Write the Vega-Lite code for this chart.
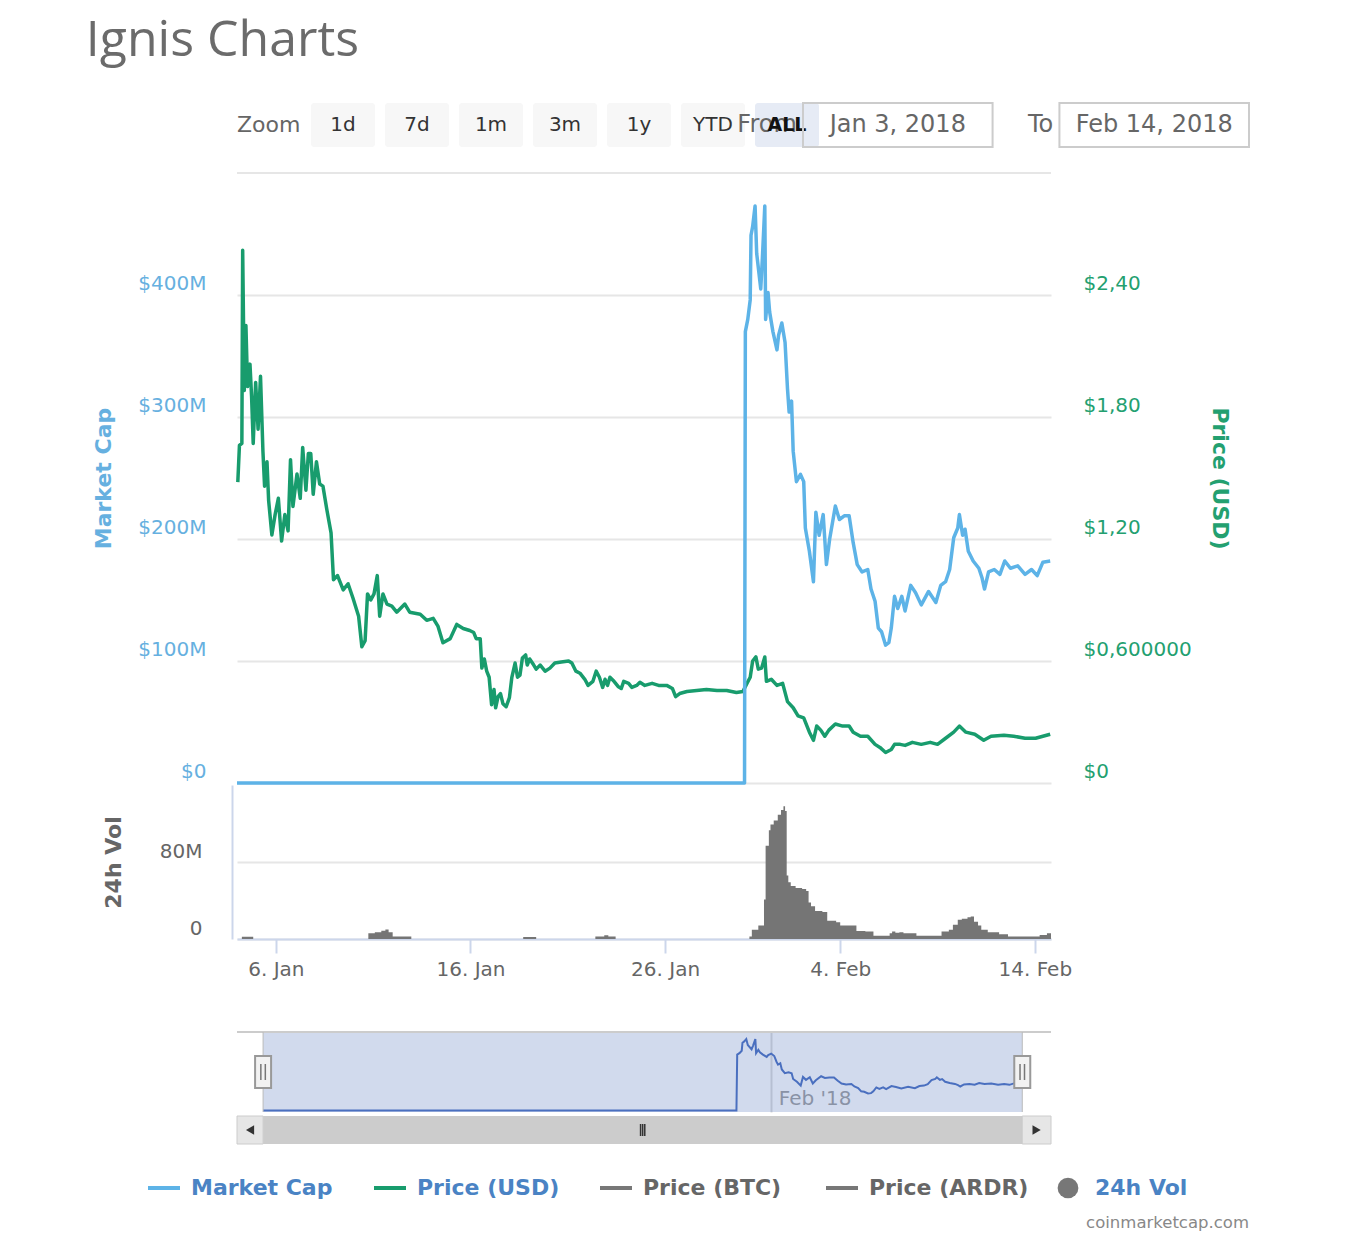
{
  "$schema": "https://vega.github.io/schema/vega-lite/v6.json",
  "background": "white",
  "padding": {"left": 85, "top": 16, "right": 5, "bottom": 0},
  "title": {
    "text": "Ignis Charts",
    "anchor": "start",
    "font": "Open Sans",
    "fontSize": 50,
    "fontWeight": "normal",
    "color": "#6b6b6b",
    "offset": 36,
    "dx": -7
  },
  "config": {
    "font": "DejaVu Sans",
    "view": {"stroke": null},
    "axis": {
      "gridColor": "#e6e6e6",
      "gridWidth": 2,
      "labelFontSize": 20,
      "titleFontSize": 22,
      "titleFontWeight": "bold",
      "ticks": false,
      "domain": false,
      "labelFlush": false,
      "labelOverlap": false
    }
  },
  "datasets": {
    "price": [
      {"t": "2018-01-04T01:00", "v": 1.48}, {"t": "2018-01-04T03:00", "v": 1.66}, {"t": "2018-01-04T06:00", "v": 1.67},
      {"t": "2018-01-04T07:00", "v": 2.62}, {"t": "2018-01-04T09:00", "v": 1.93}, {"t": "2018-01-04T11:00", "v": 2.25},
      {"t": "2018-01-04T13:00", "v": 1.95}, {"t": "2018-01-04T16:00", "v": 2.06}, {"t": "2018-01-04T18:00", "v": 1.90},
      {"t": "2018-01-04T20:00", "v": 1.67}, {"t": "2018-01-04T23:00", "v": 1.97}, {"t": "2018-01-05T02:00", "v": 1.74},
      {"t": "2018-01-05T05:00", "v": 2.00}, {"t": "2018-01-05T08:00", "v": 1.63}, {"t": "2018-01-05T10:00", "v": 1.46},
      {"t": "2018-01-05T13:00", "v": 1.58}, {"t": "2018-01-05T15:00", "v": 1.39}, {"t": "2018-01-05T19:00", "v": 1.22},
      {"t": "2018-01-05T23:00", "v": 1.32}, {"t": "2018-01-06T03:00", "v": 1.40}, {"t": "2018-01-06T07:00", "v": 1.19},
      {"t": "2018-01-06T11:00", "v": 1.32}, {"t": "2018-01-06T15:00", "v": 1.24}, {"t": "2018-01-06T18:00", "v": 1.59},
      {"t": "2018-01-06T21:00", "v": 1.36}, {"t": "2018-01-07T02:00", "v": 1.52}, {"t": "2018-01-07T06:00", "v": 1.40},
      {"t": "2018-01-07T09:00", "v": 1.65}, {"t": "2018-01-07T13:00", "v": 1.44}, {"t": "2018-01-07T16:00", "v": 1.62},
      {"t": "2018-01-07T19:00", "v": 1.62}, {"t": "2018-01-07T22:00", "v": 1.42}, {"t": "2018-01-08T02:00", "v": 1.58},
      {"t": "2018-01-08T06:00", "v": 1.47}, {"t": "2018-01-08T10:00", "v": 1.46}, {"t": "2018-01-08T15:00", "v": 1.34},
      {"t": "2018-01-08T20:00", "v": 1.23}, {"t": "2018-01-08T23:00", "v": 1.00}, {"t": "2018-01-09T04:00", "v": 1.02},
      {"t": "2018-01-09T11:00", "v": 0.95}, {"t": "2018-01-09T17:00", "v": 0.98}, {"t": "2018-01-09T23:00", "v": 0.91},
      {"t": "2018-01-10T06:00", "v": 0.82}, {"t": "2018-01-10T10:00", "v": 0.67}, {"t": "2018-01-10T14:00", "v": 0.70},
      {"t": "2018-01-10T17:00", "v": 0.93}, {"t": "2018-01-10T21:00", "v": 0.90}, {"t": "2018-01-11T01:00", "v": 0.93},
      {"t": "2018-01-11T05:00", "v": 1.02}, {"t": "2018-01-11T08:00", "v": 0.82}, {"t": "2018-01-11T12:00", "v": 0.93},
      {"t": "2018-01-11T17:00", "v": 0.88}, {"t": "2018-01-11T23:00", "v": 0.87}, {"t": "2018-01-12T05:00", "v": 0.84},
      {"t": "2018-01-12T15:00", "v": 0.88}, {"t": "2018-01-12T21:00", "v": 0.84}, {"t": "2018-01-13T10:00", "v": 0.83},
      {"t": "2018-01-13T18:00", "v": 0.80}, {"t": "2018-01-14T02:00", "v": 0.81}, {"t": "2018-01-14T08:00", "v": 0.77},
      {"t": "2018-01-14T14:00", "v": 0.69}, {"t": "2018-01-14T23:00", "v": 0.71}, {"t": "2018-01-15T07:00", "v": 0.78},
      {"t": "2018-01-15T15:00", "v": 0.76}, {"t": "2018-01-15T23:00", "v": 0.75}, {"t": "2018-01-16T04:00", "v": 0.74},
      {"t": "2018-01-16T07:00", "v": 0.71}, {"t": "2018-01-16T12:00", "v": 0.71}, {"t": "2018-01-16T14:00", "v": 0.565},
      {"t": "2018-01-16T17:00", "v": 0.61}, {"t": "2018-01-16T20:00", "v": 0.55}, {"t": "2018-01-16T23:00", "v": 0.52},
      {"t": "2018-01-17T02:00", "v": 0.385}, {"t": "2018-01-17T05:00", "v": 0.46}, {"t": "2018-01-17T07:00", "v": 0.37},
      {"t": "2018-01-17T10:00", "v": 0.425}, {"t": "2018-01-17T13:00", "v": 0.44}, {"t": "2018-01-17T16:00", "v": 0.39},
      {"t": "2018-01-17T20:00", "v": 0.375}, {"t": "2018-01-18T00:00", "v": 0.42}, {"t": "2018-01-18T03:00", "v": 0.52},
      {"t": "2018-01-18T07:00", "v": 0.59}, {"t": "2018-01-18T10:00", "v": 0.52}, {"t": "2018-01-18T13:00", "v": 0.53},
      {"t": "2018-01-18T16:00", "v": 0.615}, {"t": "2018-01-18T20:00", "v": 0.63}, {"t": "2018-01-18T22:00", "v": 0.58},
      {"t": "2018-01-19T01:00", "v": 0.61}, {"t": "2018-01-19T06:00", "v": 0.58}, {"t": "2018-01-19T09:00", "v": 0.56},
      {"t": "2018-01-19T14:00", "v": 0.58}, {"t": "2018-01-19T20:00", "v": 0.55}, {"t": "2018-01-20T02:00", "v": 0.565},
      {"t": "2018-01-20T08:00", "v": 0.59}, {"t": "2018-01-20T16:00", "v": 0.595}, {"t": "2018-01-21T01:00", "v": 0.60},
      {"t": "2018-01-21T05:00", "v": 0.59}, {"t": "2018-01-21T10:00", "v": 0.55}, {"t": "2018-01-21T15:00", "v": 0.54},
      {"t": "2018-01-21T21:00", "v": 0.51}, {"t": "2018-01-22T01:00", "v": 0.48}, {"t": "2018-01-22T07:00", "v": 0.50},
      {"t": "2018-01-22T11:00", "v": 0.55}, {"t": "2018-01-22T15:00", "v": 0.52}, {"t": "2018-01-22T19:00", "v": 0.47},
      {"t": "2018-01-22T22:00", "v": 0.51}, {"t": "2018-01-23T01:00", "v": 0.48}, {"t": "2018-01-23T04:00", "v": 0.52},
      {"t": "2018-01-23T09:00", "v": 0.50}, {"t": "2018-01-23T14:00", "v": 0.475}, {"t": "2018-01-23T18:00", "v": 0.465},
      {"t": "2018-01-23T21:00", "v": 0.50}, {"t": "2018-01-24T03:00", "v": 0.49}, {"t": "2018-01-24T07:00", "v": 0.47},
      {"t": "2018-01-24T13:00", "v": 0.48}, {"t": "2018-01-24T17:00", "v": 0.495}, {"t": "2018-01-24T23:00", "v": 0.48},
      {"t": "2018-01-25T08:00", "v": 0.49}, {"t": "2018-01-25T16:00", "v": 0.48}, {"t": "2018-01-26T02:00", "v": 0.48},
      {"t": "2018-01-26T09:00", "v": 0.465}, {"t": "2018-01-26T13:00", "v": 0.425}, {"t": "2018-01-26T18:00", "v": 0.44},
      {"t": "2018-01-27T03:00", "v": 0.45}, {"t": "2018-01-27T15:00", "v": 0.455}, {"t": "2018-01-28T03:00", "v": 0.46},
      {"t": "2018-01-28T16:00", "v": 0.455}, {"t": "2018-01-29T04:00", "v": 0.455}, {"t": "2018-01-29T16:00", "v": 0.445},
      {"t": "2018-01-30T00:00", "v": 0.45}, {"t": "2018-01-30T05:00", "v": 0.49}, {"t": "2018-01-30T09:00", "v": 0.52},
      {"t": "2018-01-30T12:00", "v": 0.60}, {"t": "2018-01-30T16:00", "v": 0.62}, {"t": "2018-01-30T19:00", "v": 0.56},
      {"t": "2018-01-30T23:00", "v": 0.565}, {"t": "2018-01-31T03:00", "v": 0.62}, {"t": "2018-01-31T05:00", "v": 0.50},
      {"t": "2018-01-31T11:00", "v": 0.51}, {"t": "2018-01-31T18:00", "v": 0.48}, {"t": "2018-02-01T01:00", "v": 0.49},
      {"t": "2018-02-01T07:00", "v": 0.40}, {"t": "2018-02-01T14:00", "v": 0.37}, {"t": "2018-02-01T20:00", "v": 0.33},
      {"t": "2018-02-02T03:00", "v": 0.32}, {"t": "2018-02-02T10:00", "v": 0.25}, {"t": "2018-02-02T15:00", "v": 0.21},
      {"t": "2018-02-02T19:00", "v": 0.28}, {"t": "2018-02-03T00:00", "v": 0.26}, {"t": "2018-02-03T05:00", "v": 0.23},
      {"t": "2018-02-03T10:00", "v": 0.26}, {"t": "2018-02-03T18:00", "v": 0.29}, {"t": "2018-02-04T03:00", "v": 0.28},
      {"t": "2018-02-04T11:00", "v": 0.28}, {"t": "2018-02-04T16:00", "v": 0.25}, {"t": "2018-02-05T01:00", "v": 0.23},
      {"t": "2018-02-05T10:00", "v": 0.23}, {"t": "2018-02-05T19:00", "v": 0.19}, {"t": "2018-02-06T01:00", "v": 0.175},
      {"t": "2018-02-06T08:00", "v": 0.15}, {"t": "2018-02-06T15:00", "v": 0.165}, {"t": "2018-02-06T19:00", "v": 0.19},
      {"t": "2018-02-07T02:00", "v": 0.19}, {"t": "2018-02-07T08:00", "v": 0.185}, {"t": "2018-02-07T17:00", "v": 0.20},
      {"t": "2018-02-08T04:00", "v": 0.19}, {"t": "2018-02-08T15:00", "v": 0.20}, {"t": "2018-02-09T00:00", "v": 0.19},
      {"t": "2018-02-09T10:00", "v": 0.22}, {"t": "2018-02-09T20:00", "v": 0.25}, {"t": "2018-02-10T03:00", "v": 0.28},
      {"t": "2018-02-10T11:00", "v": 0.25}, {"t": "2018-02-10T22:00", "v": 0.24}, {"t": "2018-02-11T09:00", "v": 0.21},
      {"t": "2018-02-11T18:00", "v": 0.23}, {"t": "2018-02-12T10:00", "v": 0.235}, {"t": "2018-02-12T22:00", "v": 0.23},
      {"t": "2018-02-13T12:00", "v": 0.22}, {"t": "2018-02-14T01:00", "v": 0.22}, {"t": "2018-02-14T10:00", "v": 0.23},
      {"t": "2018-02-14T19:00", "v": 0.24}
    ],
    "mcap": [
      {"t": "2018-01-04T00:00", "v": 0}, {"t": "2018-01-30T02:00", "v": 0}, {"t": "2018-01-30T03:00", "v": 370},
      {"t": "2018-01-30T06:00", "v": 380}, {"t": "2018-01-30T09:00", "v": 396}, {"t": "2018-01-30T10:00", "v": 449},
      {"t": "2018-01-30T12:00", "v": 456}, {"t": "2018-01-30T15:00", "v": 473}, {"t": "2018-01-30T17:00", "v": 434},
      {"t": "2018-01-30T22:00", "v": 405}, {"t": "2018-01-31T00:00", "v": 430}, {"t": "2018-01-31T03:00", "v": 473},
      {"t": "2018-01-31T04:00", "v": 380}, {"t": "2018-01-31T07:00", "v": 402}, {"t": "2018-01-31T09:00", "v": 386},
      {"t": "2018-01-31T13:00", "v": 370}, {"t": "2018-01-31T18:00", "v": 355}, {"t": "2018-01-31T20:00", "v": 367},
      {"t": "2018-02-01T00:00", "v": 377}, {"t": "2018-02-01T04:00", "v": 361}, {"t": "2018-02-01T07:00", "v": 323},
      {"t": "2018-02-01T09:00", "v": 304}, {"t": "2018-02-01T12:00", "v": 313}, {"t": "2018-02-01T14:00", "v": 272},
      {"t": "2018-02-01T18:00", "v": 247}, {"t": "2018-02-01T23:00", "v": 253}, {"t": "2018-02-02T03:00", "v": 247},
      {"t": "2018-02-02T05:00", "v": 209}, {"t": "2018-02-02T10:00", "v": 190}, {"t": "2018-02-02T15:00", "v": 165},
      {"t": "2018-02-02T18:00", "v": 222}, {"t": "2018-02-02T22:00", "v": 203}, {"t": "2018-02-03T03:00", "v": 220},
      {"t": "2018-02-03T07:00", "v": 179}, {"t": "2018-02-03T11:00", "v": 200}, {"t": "2018-02-03T18:00", "v": 227},
      {"t": "2018-02-03T23:00", "v": 216}, {"t": "2018-02-04T05:00", "v": 219}, {"t": "2018-02-04T11:00", "v": 219},
      {"t": "2018-02-04T16:00", "v": 197}, {"t": "2018-02-04T21:00", "v": 179}, {"t": "2018-02-05T03:00", "v": 173},
      {"t": "2018-02-05T10:00", "v": 175}, {"t": "2018-02-05T14:00", "v": 159}, {"t": "2018-02-05T19:00", "v": 149},
      {"t": "2018-02-05T23:00", "v": 127}, {"t": "2018-02-06T03:00", "v": 124}, {"t": "2018-02-06T08:00", "v": 113},
      {"t": "2018-02-06T12:00", "v": 115}, {"t": "2018-02-06T15:00", "v": 127}, {"t": "2018-02-06T19:00", "v": 153},
      {"t": "2018-02-06T23:00", "v": 143}, {"t": "2018-02-07T04:00", "v": 153}, {"t": "2018-02-07T08:00", "v": 141},
      {"t": "2018-02-07T15:00", "v": 162}, {"t": "2018-02-07T21:00", "v": 156}, {"t": "2018-02-08T04:00", "v": 146},
      {"t": "2018-02-08T13:00", "v": 157}, {"t": "2018-02-08T22:00", "v": 148}, {"t": "2018-02-09T04:00", "v": 162},
      {"t": "2018-02-09T10:00", "v": 165}, {"t": "2018-02-09T15:00", "v": 175}, {"t": "2018-02-09T20:00", "v": 201},
      {"t": "2018-02-10T01:00", "v": 209}, {"t": "2018-02-10T03:00", "v": 220}, {"t": "2018-02-10T07:00", "v": 203},
      {"t": "2018-02-10T10:00", "v": 208}, {"t": "2018-02-10T14:00", "v": 190}, {"t": "2018-02-10T20:00", "v": 182},
      {"t": "2018-02-11T03:00", "v": 176}, {"t": "2018-02-11T07:00", "v": 168}, {"t": "2018-02-11T10:00", "v": 159},
      {"t": "2018-02-11T15:00", "v": 173}, {"t": "2018-02-11T22:00", "v": 175}, {"t": "2018-02-12T05:00", "v": 171},
      {"t": "2018-02-12T11:00", "v": 182}, {"t": "2018-02-12T18:00", "v": 176}, {"t": "2018-02-13T03:00", "v": 178},
      {"t": "2018-02-13T12:00", "v": 171}, {"t": "2018-02-13T20:00", "v": 175}, {"t": "2018-02-14T03:00", "v": 170},
      {"t": "2018-02-14T10:00", "v": 181}, {"t": "2018-02-14T19:00", "v": 182}
    ],
    "vol": [
      {"t": "2018-01-04T00:00", "v": 0}, {"t": "2018-01-04T06:00", "v": 2.3}, {"t": "2018-01-04T20:00", "v": 0},
      {"t": "2018-01-10T18:00", "v": 6}, {"t": "2018-01-11T02:00", "v": 7}, {"t": "2018-01-11T10:00", "v": 8.5},
      {"t": "2018-01-11T15:00", "v": 10}, {"t": "2018-01-11T19:00", "v": 7}, {"t": "2018-01-12T00:00", "v": 2.5},
      {"t": "2018-01-12T23:00", "v": 0}, {"t": "2018-01-18T17:00", "v": 2}, {"t": "2018-01-19T09:00", "v": 0},
      {"t": "2018-01-22T10:00", "v": 2.5}, {"t": "2018-01-22T21:00", "v": 4}, {"t": "2018-01-23T02:00", "v": 2.5},
      {"t": "2018-01-23T11:00", "v": 0}, {"t": "2018-01-30T08:00", "v": 2.5}, {"t": "2018-01-30T11:00", "v": 9.5},
      {"t": "2018-01-30T19:00", "v": 14}, {"t": "2018-01-31T02:00", "v": 41}, {"t": "2018-01-31T04:00", "v": 97},
      {"t": "2018-01-31T08:00", "v": 113}, {"t": "2018-01-31T10:00", "v": 119}, {"t": "2018-01-31T14:00", "v": 123},
      {"t": "2018-01-31T19:00", "v": 129}, {"t": "2018-01-31T23:00", "v": 134}, {"t": "2018-02-01T02:00", "v": 138},
      {"t": "2018-02-01T04:00", "v": 133}, {"t": "2018-02-01T06:00", "v": 66}, {"t": "2018-02-01T08:00", "v": 59},
      {"t": "2018-02-01T11:00", "v": 55}, {"t": "2018-02-01T17:00", "v": 53}, {"t": "2018-02-02T01:00", "v": 52},
      {"t": "2018-02-02T06:00", "v": 50}, {"t": "2018-02-02T09:00", "v": 38}, {"t": "2018-02-02T12:00", "v": 34},
      {"t": "2018-02-02T17:00", "v": 29}, {"t": "2018-02-03T02:00", "v": 28}, {"t": "2018-02-03T08:00", "v": 19},
      {"t": "2018-02-03T19:00", "v": 17.5}, {"t": "2018-02-04T00:00", "v": 14}, {"t": "2018-02-04T20:00", "v": 8.4},
      {"t": "2018-02-05T07:00", "v": 7.7}, {"t": "2018-02-05T17:00", "v": 3.5}, {"t": "2018-02-06T13:00", "v": 6},
      {"t": "2018-02-06T16:00", "v": 7.7}, {"t": "2018-02-06T20:00", "v": 6.5}, {"t": "2018-02-07T01:00", "v": 7},
      {"t": "2018-02-07T06:00", "v": 6}, {"t": "2018-02-07T22:00", "v": 3.5}, {"t": "2018-02-09T05:00", "v": 7.7},
      {"t": "2018-02-09T14:00", "v": 9.5}, {"t": "2018-02-09T19:00", "v": 14.7}, {"t": "2018-02-10T01:00", "v": 20},
      {"t": "2018-02-10T06:00", "v": 21}, {"t": "2018-02-10T13:00", "v": 22.5}, {"t": "2018-02-10T17:00", "v": 23.5},
      {"t": "2018-02-10T21:00", "v": 18}, {"t": "2018-02-11T02:00", "v": 14}, {"t": "2018-02-11T06:00", "v": 9.5},
      {"t": "2018-02-11T14:00", "v": 7}, {"t": "2018-02-12T04:00", "v": 5}, {"t": "2018-02-12T15:00", "v": 2.5},
      {"t": "2018-02-14T06:00", "v": 4.2}, {"t": "2018-02-14T15:00", "v": 6}, {"t": "2018-02-14T20:00", "v": 6}
    ],
    "navRange": [{"t": "2018-01-04T00:00"}, {"t": "2018-02-14T20:00"}],
    "header": [
      {"item": "Zoom"}, {"item": "1d"}, {"item": "7d"}, {"item": "1m"},
      {"item": "3m"}, {"item": "1y"}, {"item": "YTD"}, {"item": "ALL"}
    ],
    "inputs": [
      {"key": "from", "label": "From", "date": "Jan 3, 2018"},
      {"key": "to", "label": "To", "date": "Feb 14, 2018"}
    ],
    "legend": [
      {"name": "Market Cap"}, {"name": "Price (USD)"}, {"name": "Price (BTC)"},
      {"name": "Price (ARDR)"}, {"name": "24h Vol"}
    ]
  },
  "spacing": 0,
  "resolve": {"scale": {"x": "independent", "y": "independent", "color": "independent"}},
  "vconcat": [
    {
      "width": 1012,
      "height": 44,
      "resolve": {"scale": {"x": "independent"}},
      "layer": [
        {
          "data": {"name": "header"},
          "transform": [{"filter": "datum.item != 'Zoom'"}],
          "mark": {"type": "rect", "cornerRadius": 3},
          "encoding": {
            "x": {"field": "item", "type": "nominal", "axis": null,
                  "scale": {"type": "band", "domain": ["Zoom", "1d", "7d", "1m", "3m", "1y", "YTD", "ALL"], "range": [0, 582], "paddingInner": 0.135, "paddingOuter": 0}},
            "color": {"condition": {"test": "datum.item == 'ALL'", "value": "#e6ebf5"}, "value": "#f7f7f7"}
          }
        },
        {
          "data": {"name": "inputs"},
          "mark": {"type": "text", "align": "right", "dx": -101, "fontSize": 24, "color": "#666666"},
          "encoding": {
            "x": {"field": "key", "type": "nominal", "axis": null,
                  "scale": {"type": "band", "domain": ["from", "to"], "range": [566, 1012], "paddingInner": 0.2607, "paddingOuter": 0}},
            "text": {"field": "label"}
          }
        },
        {
          "data": {"name": "header"},
          "transform": [{"filter": "datum.item != 'Zoom' && datum.item != 'ALL'"}],
          "mark": {"type": "text", "fontSize": 20, "color": "#333333"},
          "encoding": {
            "x": {"field": "item", "type": "nominal", "axis": null,
                  "scale": {"type": "band", "domain": ["Zoom", "1d", "7d", "1m", "3m", "1y", "YTD", "ALL"], "range": [0, 582], "paddingInner": 0.135, "paddingOuter": 0}},
            "text": {"field": "item"}
          }
        },
        {
          "data": {"name": "header"},
          "transform": [{"filter": "datum.item == 'ALL'"}],
          "mark": {"type": "text", "fontSize": 19, "fontWeight": "bold", "color": "#111111"},
          "encoding": {
            "x": {"field": "item", "type": "nominal", "axis": null,
                  "scale": {"type": "band", "domain": ["Zoom", "1d", "7d", "1m", "3m", "1y", "YTD", "ALL"], "range": [0, 582], "paddingInner": 0.135, "paddingOuter": 0}},
            "text": {"field": "item"}
          }
        },
        {
          "data": {"name": "header"},
          "transform": [{"filter": "datum.item == 'Zoom'"}],
          "mark": {"type": "text", "align": "left", "dx": -32, "fontSize": 22, "color": "#666666"},
          "encoding": {
            "x": {"field": "item", "type": "nominal", "axis": null,
                  "scale": {"type": "band", "domain": ["Zoom", "1d", "7d", "1m", "3m", "1y", "YTD", "ALL"], "range": [0, 582], "paddingInner": 0.135, "paddingOuter": 0}},
            "text": {"field": "item"}
          }
        },
        {
          "data": {"name": "inputs"},
          "mark": {"type": "rect", "filled": false, "color": "#cccccc", "strokeWidth": 2},
          "encoding": {
            "x": {"field": "key", "type": "nominal", "axis": null,
                  "scale": {"type": "band", "domain": ["from", "to"], "range": [566, 1012], "paddingInner": 0.2607, "paddingOuter": 0}}
          }
        },
        {
          "data": {"name": "inputs"},
          "mark": {"type": "text", "fontSize": 24, "color": "#666666"},
          "encoding": {
            "x": {"field": "key", "type": "nominal", "axis": null,
                  "scale": {"type": "band", "domain": ["from", "to"], "range": [566, 1012], "paddingInner": 0.2607, "paddingOuter": 0}},
            "text": {"field": "date"}
          }
        }
      ]
    },
    {
      "width": 814,
      "height": 24,
      "data": {"values": [{}]},
      "mark": "text",
      "encoding": {"text": {"value": ""}}
    },
    {
      "width": 814,
      "height": 610,
      "resolve": {"scale": {"y": "independent"}},
      "layer": [
        {
          "data": {"name": "price"},
          "mark": {"type": "line", "color": "#189c6d", "strokeWidth": 3.5, "strokeJoin": "round"},
          "encoding": {
            "x": {"field": "t", "type": "temporal", "axis": null,
                  "scale": {"domain": [{"year": 2018, "month": 1, "date": 4}, {"year": 2018, "month": 2, "date": 14, "hours": 20}]}},
            "y": {"field": "v", "type": "quantitative", "title": "Price (USD)",
                  "scale": {"domain": [0, 3]},
                  "axis": {
                    "orient": "right",
                    "values": [0, 0.6, 1.2, 1.8, 2.4],
                    "labelExpr": "datum.value == 0 ? '$0' : datum.value < 1 ? '$0,600000' : '$' + replace(format(datum.value, '.2f'), '.', ',')",
                    "grid": false,
                    "labelColor": "#23a070",
                    "titleColor": "#23a070",
                    "labelPadding": 32,
                    "titlePadding": 16,
                    "labelBaseline": "bottom",
                    "labelOffset": -2
                  }}
          }
        },
        {
          "data": {"values": [{}]},
          "mark": {"type": "rule", "color": "#e6e6e6", "strokeWidth": 2},
          "encoding": {
            "y": {"datum": 500, "type": "quantitative", "axis": null, "scale": {"domain": [0, 500]}}
          }
        },
        {
          "data": {"name": "mcap"},
          "mark": {"type": "line", "color": "#5db3e7", "strokeWidth": 3.5, "strokeJoin": "round"},
          "encoding": {
            "x": {"field": "t", "type": "temporal", "axis": null,
                  "scale": {"domain": [{"year": 2018, "month": 1, "date": 4}, {"year": 2018, "month": 2, "date": 14, "hours": 20}]}},
            "y": {"field": "v", "type": "quantitative", "title": "Market Cap",
                  "scale": {"domain": [0, 500]},
                  "axis": {
                    "orient": "left",
                    "values": [0, 100, 200, 300, 400],
                    "labelExpr": "datum.value == 0 ? '$0' : '$' + datum.value + 'M'",
                    "grid": true,
                    "labelColor": "#66b0e0",
                    "titleColor": "#66b0e0",
                    "labelPadding": 31,
                    "titlePadding": 22,
                    "labelBaseline": "bottom",
                    "labelOffset": -2
                  }}
          }
        }
      ]
    },
    {
      "width": 814,
      "height": 154,
      "data": {"name": "vol"},
      "mark": {"type": "area", "interpolate": "step-after", "color": "#757575"},
      "encoding": {
        "x": {"field": "t", "type": "temporal", "title": null,
              "scale": {"domain": [{"year": 2018, "month": 1, "date": 4}, {"year": 2018, "month": 2, "date": 14, "hours": 20}]},
              "axis": {
                "values": [
                  {"year": 2018, "month": 1, "date": 6}, {"year": 2018, "month": 1, "date": 16},
                  {"year": 2018, "month": 1, "date": 26}, {"year": 2018, "month": 2, "date": 4},
                  {"year": 2018, "month": 2, "date": 14}
                ],
                "labelExpr": "timeFormat(datum.value, '%-d. %b')",
                "ticks": true,
                "tickSize": 14,
                "tickWidth": 2,
                "tickColor": "#ccd6eb",
                "domain": true,
                "domainColor": "#ccd6eb",
                "domainWidth": 2,
                "labelColor": "#666666",
                "labelPadding": 6,
                "grid": false
              }},
        "y": {"field": "v", "type": "quantitative", "title": "24h Vol",
              "scale": {"domain": [0, 160]},
              "axis": {
                "values": [0, 80],
                "labelExpr": "datum.value == 0 ? '0' : datum.value + 'M'",
                "grid": true,
                "domain": true,
                "domainColor": "#ccd6eb",
                "domainWidth": 2,
                "offset": 5,
                "labelColor": "#666666",
                "titleColor": "#666666",
                "labelPadding": 30,
                "titlePadding": 34,
                "labelBaseline": "bottom",
                "labelOffset": -1
              }}
      }
    },
    {
      "width": 814,
      "height": 52,
      "data": {"values": [{}]},
      "mark": "text",
      "encoding": {"text": {"value": ""}}
    },
    {
      "width": 814,
      "height": 80,
      "layer": [
        {
          "data": {"values": [{}]},
          "mark": {"type": "rect", "color": "#6685c2", "opacity": 0.3},
          "encoding": {
            "x": {"datum": {"year": 2018, "month": 1, "date": 4}, "type": "temporal", "title": null,
                  "scale": {"domain": [{"year": 2018, "month": 1, "date": 2, "hours": 13, "minutes": 30}, {"year": 2018, "month": 2, "date": 16, "hours": 10}]},
                  "axis": {
                    "values": [{"year": 2018, "month": 2, "date": 1}],
                    "format": "%b '%y",
                    "grid": true,
                    "gridColor": "#d8d8d8",
                    "gridWidth": 2,
                    "ticks": false,
                    "tickSize": 0,
                    "domain": false,
                    "labelAlign": "left",
                    "labelBaseline": "alphabetic",
                    "labelPadding": -8,
                    "labelOffset": 7,
                    "labelColor": "#999999"
                  }},
            "x2": {"datum": {"year": 2018, "month": 2, "date": 14, "hours": 20}}
          }
        },
        {
          "data": {"name": "mcap"},
          "mark": {"type": "line", "color": "#4a6fbf", "strokeWidth": 2},
          "encoding": {
            "x": {"field": "t", "type": "temporal", "title": null,
                  "scale": {"domain": [{"year": 2018, "month": 1, "date": 2, "hours": 13, "minutes": 30}, {"year": 2018, "month": 2, "date": 16, "hours": 10}]}},
            "y": {"field": "v", "type": "quantitative", "axis": null, "scale": {"domain": [-10, 520]}}
          }
        },
        {
          "data": {"values": [{}]},
          "mark": {"type": "rule", "color": "#cccccc", "strokeWidth": 2},
          "encoding": {
            "y": {"datum": 520, "type": "quantitative", "axis": null, "scale": {"domain": [-10, 520]}}
          }
        },
        {
          "data": {"name": "navRange"},
          "mark": {"type": "rule", "color": "#bbbbbb", "strokeWidth": 1},
          "encoding": {
            "x": {"field": "t", "type": "temporal", "title": null,
                  "scale": {"domain": [{"year": 2018, "month": 1, "date": 2, "hours": 13, "minutes": 30}, {"year": 2018, "month": 2, "date": 16, "hours": 10}]}}
          }
        },
        {
          "data": {"name": "navRange"},
          "mark": {"type": "point", "shape": "M-0.5,-1H0.5V1H-0.5Z", "size": 1024, "filled": true, "fill": "#f2f2f2", "stroke": "#999999", "strokeWidth": 2, "opacity": 1},
          "encoding": {
            "x": {"field": "t", "type": "temporal", "title": null,
                  "scale": {"domain": [{"year": 2018, "month": 1, "date": 2, "hours": 13, "minutes": 30}, {"year": 2018, "month": 2, "date": 16, "hours": 10}]}}
          }
        },
        {
          "data": {"name": "navRange"},
          "mark": {"type": "point", "shape": "M-0.14,-0.5V0.5M0.14,-0.5V0.5", "size": 1024, "filled": false, "stroke": "#777777", "strokeWidth": 1.5, "opacity": 1},
          "encoding": {
            "x": {"field": "t", "type": "temporal", "title": null,
                  "scale": {"domain": [{"year": 2018, "month": 1, "date": 2, "hours": 13, "minutes": 30}, {"year": 2018, "month": 2, "date": 16, "hours": 10}]}}
          }
        }
      ]
    },
    {
      "width": 814,
      "height": 28,
      "layer": [
        {
          "data": {"values": [{}]},
          "mark": {"type": "rect", "color": "#cccccc"},
          "encoding": {
            "x": {"datum": {"year": 2018, "month": 1, "date": 4}, "type": "temporal", "axis": null, "title": null,
                  "scale": {"domain": [{"year": 2018, "month": 1, "date": 2, "hours": 13, "minutes": 30}, {"year": 2018, "month": 2, "date": 16, "hours": 10}]}},
            "x2": {"datum": {"year": 2018, "month": 2, "date": 14, "hours": 20}}
          }
        },
        {
          "data": {"values": [{}]},
          "mark": {"type": "rect", "fill": "#e6e6e6", "stroke": "#cccccc", "strokeWidth": 1},
          "encoding": {
            "x": {"datum": {"year": 2018, "month": 1, "date": 2, "hours": 13, "minutes": 30}, "type": "temporal", "axis": null, "title": null,
                  "scale": {"domain": [{"year": 2018, "month": 1, "date": 2, "hours": 13, "minutes": 30}, {"year": 2018, "month": 2, "date": 16, "hours": 10}]}},
            "x2": {"datum": {"year": 2018, "month": 1, "date": 4}}
          }
        },
        {
          "data": {"values": [{}]},
          "mark": {"type": "rect", "fill": "#e6e6e6", "stroke": "#cccccc", "strokeWidth": 1},
          "encoding": {
            "x": {"datum": {"year": 2018, "month": 2, "date": 14, "hours": 20}, "type": "temporal", "axis": null, "title": null,
                  "scale": {"domain": [{"year": 2018, "month": 1, "date": 2, "hours": 13, "minutes": 30}, {"year": 2018, "month": 2, "date": 16, "hours": 10}]}},
            "x2": {"datum": {"year": 2018, "month": 2, "date": 16, "hours": 10}}
          }
        },
        {
          "data": {"values": [{}]},
          "mark": {"type": "point", "shape": "triangle-left", "size": 90, "filled": true, "color": "#333333", "opacity": 1},
          "encoding": {
            "x": {"datum": {"year": 2018, "month": 1, "date": 3, "hours": 6, "minutes": 45}, "type": "temporal", "axis": null, "title": null,
                  "scale": {"domain": [{"year": 2018, "month": 1, "date": 2, "hours": 13, "minutes": 30}, {"year": 2018, "month": 2, "date": 16, "hours": 10}]}}
          }
        },
        {
          "data": {"values": [{}]},
          "mark": {"type": "point", "shape": "triangle-right", "size": 90, "filled": true, "color": "#333333", "opacity": 1},
          "encoding": {
            "x": {"datum": {"year": 2018, "month": 2, "date": 15, "hours": 15}, "type": "temporal", "axis": null, "title": null,
                  "scale": {"domain": [{"year": 2018, "month": 1, "date": 2, "hours": 13, "minutes": 30}, {"year": 2018, "month": 2, "date": 16, "hours": 10}]}}
          }
        },
        {
          "data": {"values": [{}]},
          "mark": {"type": "point", "shape": "M-0.35,-1V1M0,-1V1M0.35,-1V1", "size": 144, "filled": false, "stroke": "#333333", "strokeWidth": 1.5, "opacity": 1},
          "encoding": {
            "x": {"datum": {"year": 2018, "month": 1, "date": 24, "hours": 22}, "type": "temporal", "axis": null, "title": null,
                  "scale": {"domain": [{"year": 2018, "month": 1, "date": 2, "hours": 13, "minutes": 30}, {"year": 2018, "month": 2, "date": 16, "hours": 10}]}}
          }
        }
      ]
    },
    {
      "width": 814,
      "height": 20,
      "data": {"values": [{}]},
      "mark": "text",
      "encoding": {"text": {"value": ""}}
    },
    {
      "width": 1012,
      "height": 46,
      "data": {"name": "legend"},
      "title": {
        "text": "coinmarketcap.com",
        "orient": "bottom",
        "anchor": "end",
        "frame": "group",
        "fontSize": 16.5,
        "fontWeight": "normal",
        "color": "#888888",
        "offset": 4
      },
      "resolve": {"scale": {"color": "independent"}},
      "layer": [
        {
          "transform": [{"filter": "datum.name != '24h Vol'"}],
          "mark": {"type": "point", "shape": "stroke", "filled": false, "strokeWidth": 4, "size": 1024, "opacity": 1},
          "encoding": {
            "x": {"field": "name", "type": "nominal", "axis": null,
                  "scale": {"domain": ["Market Cap", "Price (USD)", "Price (BTC)", "Price (ARDR)", "24h Vol"], "range": [-186, 944], "paddingInner": 0, "paddingOuter": 0}},
            "color": {"field": "name", "type": "nominal", "legend": null,
                      "scale": {"domain": ["Market Cap", "Price (USD)", "Price (BTC)", "Price (ARDR)", "24h Vol"], "range": ["#5db3e7", "#189c6d", "#777777", "#777777", "#777777"]}}
          }
        },
        {
          "transform": [{"filter": "datum.name == '24h Vol'"}],
          "mark": {"type": "point", "shape": "circle", "filled": true, "size": 430, "opacity": 1},
          "encoding": {
            "x": {"field": "name", "type": "nominal", "axis": null,
                  "scale": {"domain": ["Market Cap", "Price (USD)", "Price (BTC)", "Price (ARDR)", "24h Vol"], "range": [-186, 944], "paddingInner": 0, "paddingOuter": 0}},
            "color": {"field": "name", "type": "nominal", "legend": null,
                      "scale": {"domain": ["Market Cap", "Price (USD)", "Price (BTC)", "Price (ARDR)", "24h Vol"], "range": ["#5db3e7", "#189c6d", "#777777", "#777777", "#777777"]}}
          }
        },
        {
          "mark": {"type": "text", "align": "left", "fontSize": 22, "fontWeight": "bold", "dx": 27},
          "encoding": {
            "x": {"field": "name", "type": "nominal", "axis": null,
                  "scale": {"domain": ["Market Cap", "Price (USD)", "Price (BTC)", "Price (ARDR)", "24h Vol"], "range": [-186, 944], "paddingInner": 0, "paddingOuter": 0}},
            "text": {"field": "name"},
            "color": {"field": "name", "type": "nominal", "legend": null,
                      "scale": {"domain": ["Market Cap", "Price (USD)", "Price (BTC)", "Price (ARDR)", "24h Vol"], "range": ["#4a83c4", "#4a83c4", "#666666", "#666666", "#4a83c4"]}}
          }
        }
      ]
    }
  ]
}
